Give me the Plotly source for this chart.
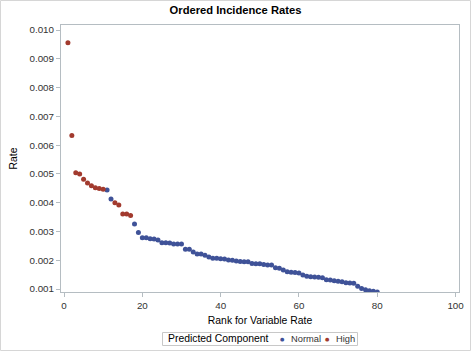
import plotly.graph_objects as go

ranks = list(range(1, 81))
rates = [
    0.00956, 0.00633, 0.00504, 0.00500, 0.00481, 0.00468, 0.00459, 0.00452, 0.00449, 0.00447,
    0.00444, 0.00413, 0.00400, 0.00392, 0.00361, 0.00361, 0.00355, 0.00326, 0.00296, 0.00278,
    0.00278, 0.00275, 0.00274, 0.00270, 0.00261, 0.00261, 0.00260, 0.00256, 0.00256, 0.00256,
    0.00238, 0.00238, 0.00229, 0.00222, 0.00222, 0.00217, 0.00211, 0.00207, 0.00207, 0.00205,
    0.00204, 0.00201, 0.00200, 0.00197, 0.00196, 0.00195, 0.00195, 0.00189, 0.00188, 0.00188,
    0.00185, 0.00183, 0.00183, 0.00174, 0.00172, 0.00166, 0.00160, 0.00158, 0.00157, 0.00156,
    0.00149, 0.00144, 0.00143, 0.00142, 0.00141, 0.00139, 0.00132, 0.00131, 0.00129, 0.00127,
    0.00125, 0.00122, 0.00121, 0.00120, 0.00110, 0.00102, 0.00097, 0.00094, 0.00092, 0.00090,
]
high_ranks = [1, 2, 3, 4, 5, 6, 7, 8, 9, 10, 13, 14, 15, 16, 17]
components = ["High" if r in high_ranks else "Normal" for r in ranks]

series_names = ["Normal", "High"]
series_colors = {"Normal": "#3F5298", "High": "#A23A2E"}
x_ticks = [0, 20, 40, 60, 80, 100]
y_ticks = [0.001, 0.002, 0.003, 0.004, 0.005, 0.006, 0.007, 0.008, 0.009, 0.010]
legend_title = "Predicted Component"

FONT = "Liberation Sans, Arial, sans-serif"
VAL = 9.8
LAB = 10.4
LEG = 9.3

fig = go.Figure()
for name in series_names:
    xs = [r for r, c in zip(ranks, components) if c == name]
    ys = [v for v, c in zip(rates, components) if c == name]
    fig.add_trace(go.Scatter(
        x=xs, y=ys, mode="markers", name=name, showlegend=False,
        marker=dict(color=series_colors[name], size=5, line=dict(width=0)),
    ))

W, H = 471, 353
ml, mr, mt, mb = 61, 12, 25, 61
pw, ph = W - ml - mr, H - mt - mb
axis_col = "#B5BDC2"


def px(xpix):
    return (xpix - ml) / pw


def py(ypix):
    return (H - mb - ypix) / ph


# manual legend (box + texts)
ly = 338.8
annotations = [
    dict(text=legend_title, x=px(166), y=py(ly), xref="paper", yref="paper",
         xanchor="left", yanchor="middle", showarrow=False,
         font=dict(family=FONT, size=LAB, color="black")),
]
legend_pos = {"Normal": (282.3, 288.5), "High": (327.7, 334.0)}
for name in series_names:
    dx, tx = legend_pos[name]
    annotations.append(dict(text="●", x=px(dx), y=py(ly - 0.3), xref="paper", yref="paper",
                            xanchor="center", yanchor="middle", showarrow=False,
                            font=dict(family="DejaVu Sans", size=5, color=series_colors[name])))
    annotations.append(dict(text=name, x=px(tx), y=py(ly), xref="paper", yref="paper",
                            xanchor="left", yanchor="middle", showarrow=False,
                            font=dict(family=FONT, size=LEG, color="#333333")))

shapes = [
    dict(type="rect", xref="paper", yref="paper",
         x0=px(0.5), x1=px(470.5), y0=py(350.5), y1=py(0.5),
         line=dict(color="#D6D6D6", width=1), layer="below"),
    dict(type="rect", xref="paper", yref="paper",
         x0=px(162.5), x1=px(357.5), y0=py(345.5), y1=py(332.5),
         line=dict(color="#C8C8C8", width=1), fillcolor="white", layer="below"),
]

fig.update_layout(
    width=W, height=H,
    margin=dict(l=ml, r=mr, t=mt, b=mb, pad=0, autoexpand=False),
    paper_bgcolor="white", plot_bgcolor="white",
    font=dict(family=FONT, size=VAL, color="#333333"),
    title=dict(text="<b>Ordered Incidence Rates</b>", x=0.5, xref="container", xanchor="center",
               y=1 - 10.5 / H, yanchor="middle", yref="container",
               font=dict(family=FONT, size=11.2, color="black")),
    showlegend=False,
    xaxis=dict(
        range=[-0.77, 100.87], tickmode="array", tickvals=x_ticks,
        showgrid=False, zeroline=False, showline=True, linecolor=axis_col, linewidth=1,
        mirror=True, ticks="outside", ticklen=4, tickcolor=axis_col,
        tickfont=dict(family=FONT, size=VAL, color="#333333"),
        title=dict(text="Rank for Variable Rate", standoff=6,
                   font=dict(family=FONT, size=LAB, color="black")),
    ),
    yaxis=dict(
        range=[0.000896, 0.010174], tickmode="array", tickvals=y_ticks,
        tickformat=".3f",
        showgrid=False, zeroline=False, showline=True, linecolor=axis_col, linewidth=1,
        mirror=True, ticks="outside", ticklen=4, tickcolor=axis_col,
        tickfont=dict(family=FONT, size=VAL, color="#333333"),
        title=dict(text="Rate", standoff=9,
                   font=dict(family=FONT, size=LAB, color="black")),
    ),
    shapes=shapes,
    annotations=annotations,
)

fig.write_html("out.html")
